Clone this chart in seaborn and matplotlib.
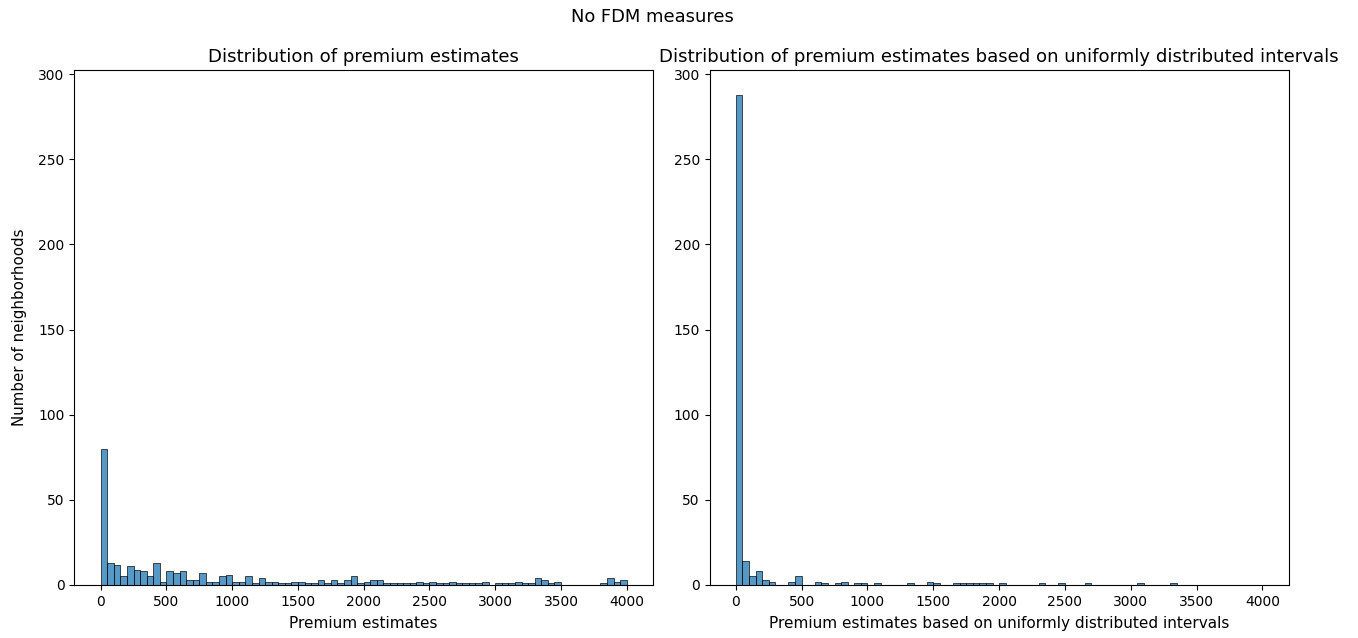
import numpy as np
import pandas as pd
import matplotlib
matplotlib.use("Agg")
import matplotlib.pyplot as plt
import seaborn as sns

# ---- data ----
bin_width = 50
bin_range = (0, 4000)
bin_centers = np.arange(25, 4000, 50)       # 80 bins of width 50

left_counts = [
    80, 13, 12, 5, 11, 9, 8, 5, 13, 2,      # 0-450
    8, 7, 8, 3, 3, 7, 2, 2, 5, 6,            # 500-950
    2, 2, 5, 1, 4, 2, 2, 1, 1, 2,            # 1000-1450
    2, 1, 1, 3, 1, 3, 1, 3, 5, 1,            # 1500-1950
    2, 3, 3, 1, 1, 1, 1, 1, 2, 1,            # 2000-2450
    2, 1, 1, 2, 1, 1, 1, 1, 2, 0,            # 2500-2950
    1, 1, 1, 2, 1, 1, 4, 3, 1, 2,            # 3000-3450
    0, 0, 0, 0, 0, 0, 1, 4, 2, 3,            # 3500-3950
]

right_counts = [
    288, 14, 5, 8, 3, 2, 0, 0, 2, 5,
    0, 0, 2, 1, 0, 1, 2, 0, 1, 1,
    0, 1, 0, 0, 0, 0, 1, 0, 0, 2,
    1, 0, 0, 1, 1, 1, 1, 1, 1, 0,
    1, 0, 0, 0, 0, 0, 1, 0, 0, 1,
    0, 0, 0, 1, 0, 0, 0, 0, 0, 0,
    0, 1, 0, 0, 0, 0, 1, 0, 0, 0,
    0, 0, 0, 0, 0, 0, 0, 0, 0, 0,
]

suptitle = "No FDM measures"
titles = ["Distribution of premium estimates",
          "Distribution of premium estimates based on uniformly distributed intervals"]
xlabels = ["Premium estimates",
           "Premium estimates based on uniformly distributed intervals"]
ylabel = "Number of neighborhoods"

# ---- figure ----
W, H = 1358, 638
fig = plt.figure(figsize=(W / 100, H / 100), dpi=100)
ax1 = fig.add_axes([74.4 / W, 1 - 585 / H, (653 - 74.4) / W, (585 - 70) / H])
ax2 = fig.add_axes([709.5 / W, 1 - 585 / H, (1288.7 - 709.5) / W, (585 - 70) / H],
                   sharey=ax1)

for ax, counts, title, xl in zip([ax1, ax2], [left_counts, right_counts], titles, xlabels):
    df = pd.DataFrame({"premium": bin_centers, "n": np.asarray(counts, dtype=float)})
    sns.histplot(data=df, x="premium", weights="n", binwidth=bin_width,
                 binrange=bin_range, ax=ax)
    ax.set_title(title, fontsize=13.1)
    ax.set_xlabel(xl, fontsize=11, labelpad=5)
    ax.set_xticks(np.arange(0, 4001, 500))
    ax.tick_params(labelsize=10)

ax1.set_ylabel(ylabel, fontsize=10.8, labelpad=8)
ax2.set_ylabel("")
ax2.tick_params(labelleft=True)
ax1.set_yticks(np.arange(0, 301, 50))
ax1.set_ylim(0, 288 * 1.05)
ax1.set_xlim(-200, 4200)
ax2.set_xlim(-200, 4200)

fig.suptitle(suptitle, x=652 / W, y=1 - 17 / H, va="center", fontsize=12.9)

fig.savefig("out.png", dpi=100)
